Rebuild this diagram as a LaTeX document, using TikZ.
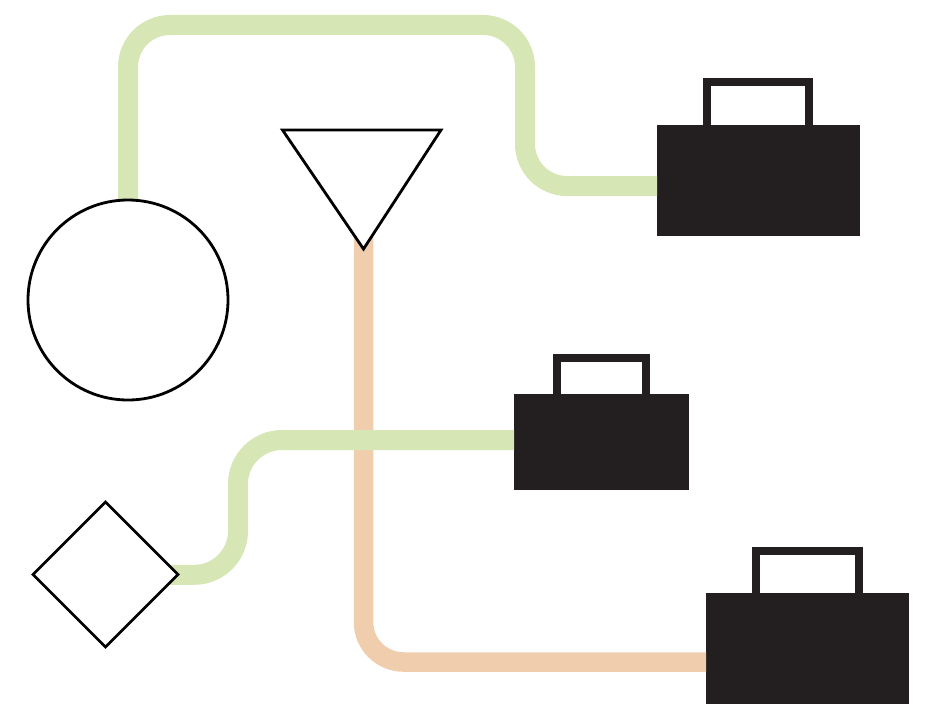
\documentclass[tikz,border=0pt]{standalone}
\usetikzlibrary{shapes.geometric}
\definecolor{pipegreen}{HTML}{D6E6B5}
\definecolor{pipeorange}{HTML}{F0CDAC}
\definecolor{casedark}{HTML}{231F20}
\tikzset{
  greenpipe/.style={draw=pipegreen,line width=20pt,rounded corners=42pt},
  orangepipe/.style={draw=pipeorange,line width=19.5pt,rounded corners=40pt},
  outline/.style={draw=black,fill=white,line width=2.8pt,line join=miter,inner sep=0pt,outer sep=0pt},
  casebody/.style={fill=casedark,inner sep=0pt,outer sep=0pt,anchor=north west},
  casehandle/.style={draw=casedark,line width=8pt,inner sep=0pt,outer sep=0pt,anchor=north west},
}
\begin{document}
\begin{tikzpicture}[x=1pt,y=-1pt]
\useasboundingbox (0,0) rectangle (934,709);
% bend points and free ends
\coordinate (g1a) at (128,25);
\coordinate (g1b) at (525,25);
\coordinate (g1c) at (525,186);
\coordinate (g2a) at (238,575);
\coordinate (g2b) at (238,440);
\coordinate (oa) at (363.5,662);
\coordinate (triL) at (282.5,130);
\coordinate (triR) at (441,130);
\coordinate (triB) at (363.5,249);
\coordinate (triC) at (363.5,170);
% cases
\node[casehandle,minimum width=102pt,minimum height=47pt] (h1) at (707,82) {};
\node[casebody,minimum width=203pt,minimum height=111pt] (case1) at (657,125) {};
\node[casehandle,minimum width=89pt,minimum height=44pt] (h2) at (557,358) {};
\node[casebody,minimum width=175pt,minimum height=96pt] (case2) at (514,394) {};
\node[casehandle,minimum width=103pt,minimum height=50pt] (h3) at (756,551) {};
\node[casebody,minimum width=203pt,minimum height=111pt] (case3) at (706,593) {};
% end shapes (named first, drawn over the pipes below)
\path (128,300) node[minimum size=200pt,circle,inner sep=0pt,outer sep=0pt] (circ) {};
\path (105.5,574.5) node[diamond,aspect=1,minimum width=145pt,minimum height=145pt,inner sep=0pt,outer sep=0pt] (dia) {};
% pipes
\draw[orangepipe] (triC) -- (oa) -- (oa -| case3.west);
\draw[greenpipe] (circ.center) -- (g1a) -- (g1b) -- (g1c) -- (g1c -| case1.west);
\draw[greenpipe,rounded corners=44pt] (dia.center) -- (g2a) -- (g2b) -- (g2b -| case2.west);
% outlines
\node[outline,circle,minimum size=200pt] at (circ.center) {};
\node[outline,diamond,aspect=1,minimum width=145pt,minimum height=145pt] at (dia.center) {};
\draw[outline] (triL) -- (triR) -- (triB) -- cycle;
\end{tikzpicture}
\end{document}
